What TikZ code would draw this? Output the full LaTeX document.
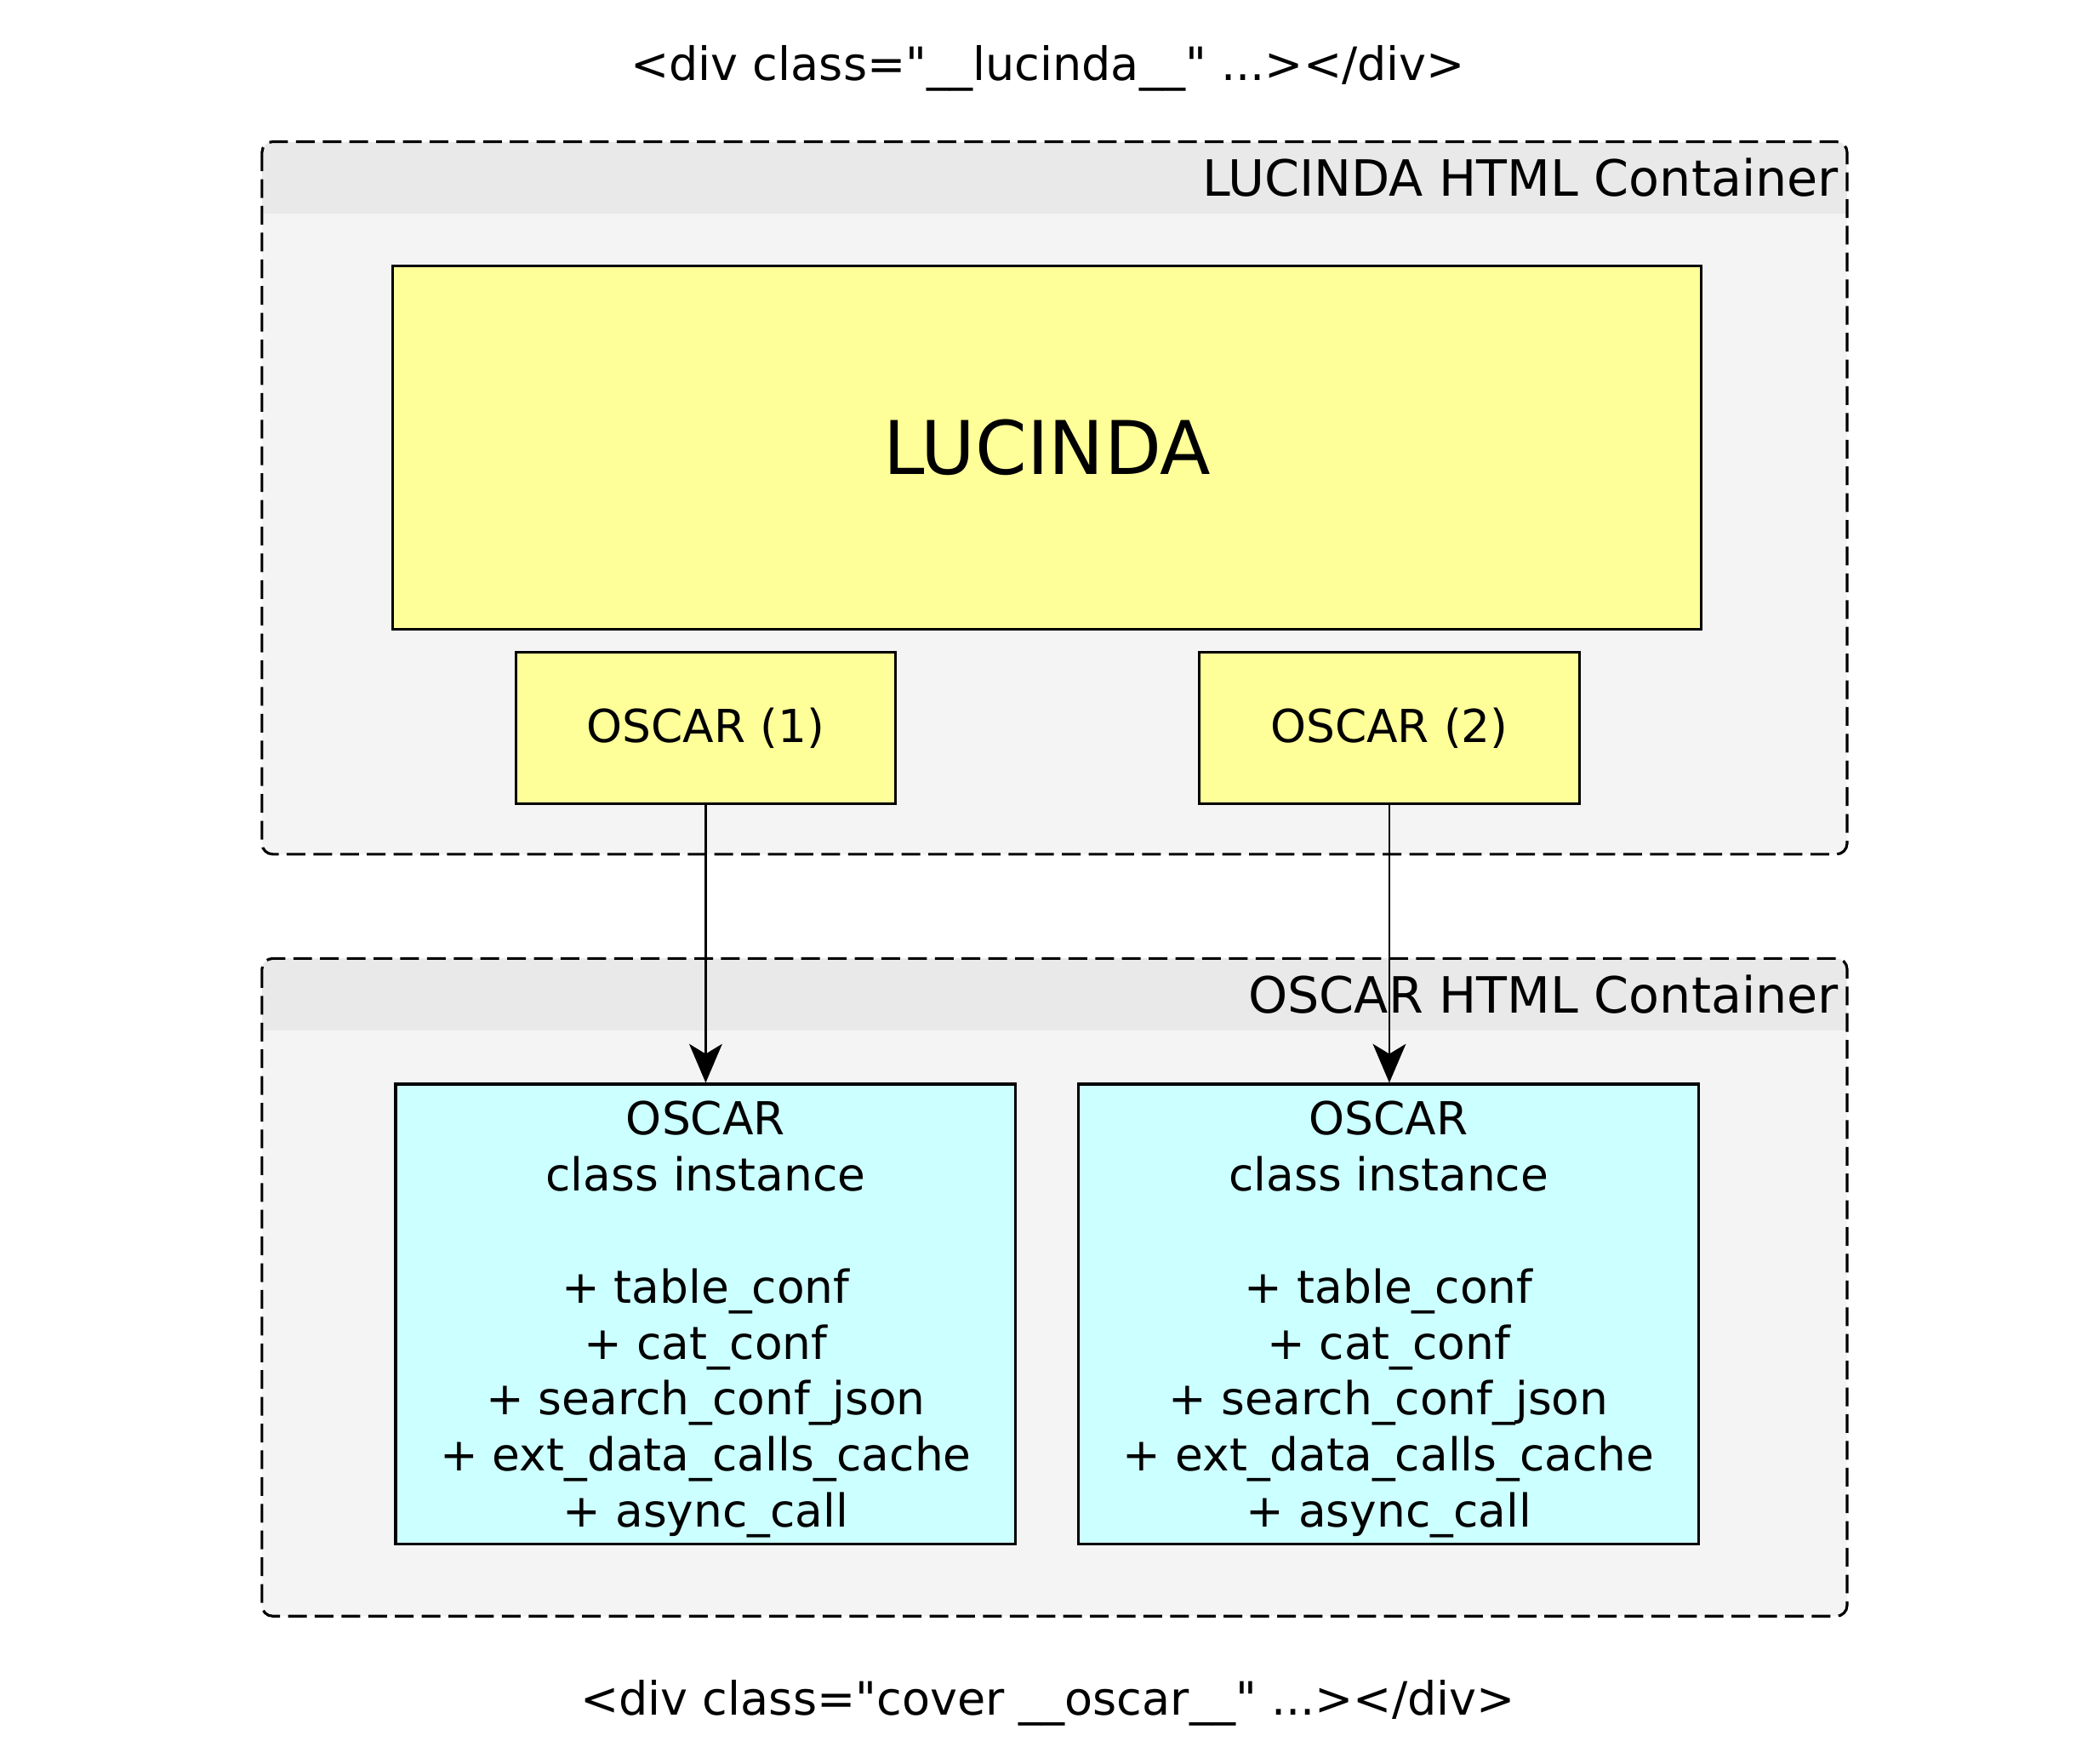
\documentclass[tikz,border=0pt]{standalone}
\usepackage{fontspec}
\setmainfont{DejaVu Sans}
\usepackage{xcolor}
\usetikzlibrary{arrows.meta}

\definecolor{lucyellow}{HTML}{FFFF99}
\definecolor{oscarcyan}{HTML}{CCFFFF}
\definecolor{panelbody}{HTML}{F4F4F4}
\definecolor{panelhead}{HTML}{E9E9E9}

\begin{document}
\begin{tikzpicture}[x=0.5pt,y=-0.5pt,
  txt/.style={font=\fontsize{17.2}{21}\selectfont,inner sep=0pt},
  ttl/.style={font=\fontsize{18.7}{22}\selectfont,inner sep=0pt,anchor=east},
  ybox/.style={draw=black,line width=1pt,fill=lucyellow,inner sep=0pt,align=center,
    font=\fontsize{17}{21}\selectfont},
  cbox/.style={draw=black,line width=1pt,fill=oscarcyan,inner sep=0pt,align=center,
    font=\fontsize{17}{21}\selectfont},
  frame/.style={draw=black,line width=1pt,dash pattern=on 7pt off 3pt,rounded corners=4pt},
  link/.style={line width=0.9pt,-{Stealth[length=14.5pt,width=12.3pt,inset=3.7pt]}}]

\useasboundingbox (0,0) rectangle (1566,1319);

% LUCINDA container
\begin{scope}
\clip[rounded corners=4pt] (196,106) rectangle (1382,639);
\fill[panelbody] (196,106) rectangle (1382,639);
\fill[panelhead] (196,106) rectangle (1382,160);
\end{scope}
\draw[frame] (196,106) rectangle (1382,639);
\node[ttl] (lucTitle) at (1376,133) {LUCINDA HTML Container};

% OSCAR container
\begin{scope}
\clip[rounded corners=4pt] (196,717) rectangle (1382,1209);
\fill[panelbody] (196,717) rectangle (1382,1209);
\fill[panelhead] (196,717) rectangle (1382,771);
\end{scope}
\draw[frame] (196,717) rectangle (1382,1209);
\node[ttl] (oscTitle) at (1376,744) {OSCAR HTML Container};

% div labels
\node[txt] (divLucinda) at (784,51) {<div class=\textquotedbl\_\_lucinda\_\_\textquotedbl\ ...></div>};
\node[txt] (divOscar) at (784,1274) {<div class=\textquotedbl cover \_\_oscar\_\_\textquotedbl\ ...></div>};

% boxes
\node[ybox,minimum width=489.5pt,minimum height=136pt,font=\fontsize{27.7}{32}\selectfont]
  (lucinda) at (783.5,335) {LUCINDA};
\node[ybox,minimum width=142pt,minimum height=56.5pt] (oscarA) at (528,544.5) {\raisebox{-1.5pt}{OSCAR (1)}};
\node[ybox,minimum width=142.5pt,minimum height=56.5pt] (oscarB) at (1039.5,544.5) {\raisebox{-1.5pt}{OSCAR (2)}};

\node[cbox,minimum width=232pt,minimum height=172pt] (instA) at (528,983) {};
\node[cbox,minimum width=232pt,minimum height=172pt] (instB) at (1039,983) {};
\node[cbox,draw=none,fill=none] (attrA) at (528,987) {OSCAR\\class instance\\[21pt]+ table\_conf\\+ cat\_conf\\+ search\_conf\_json\\+ ext\_data\_calls\_cache\\+ async\_call};
\node[cbox,draw=none,fill=none] (attrB) at (1039,987) {OSCAR\\class instance\\[21pt]+ table\_conf\\+ cat\_conf\\+ search\_conf\_json\\+ ext\_data\_calls\_cache\\+ async\_call};

\draw[link] (oscarA) -- (instA);
\draw[link] (oscarB.south) -- (oscarB.south |- instB.north);
\end{tikzpicture}
\end{document}
